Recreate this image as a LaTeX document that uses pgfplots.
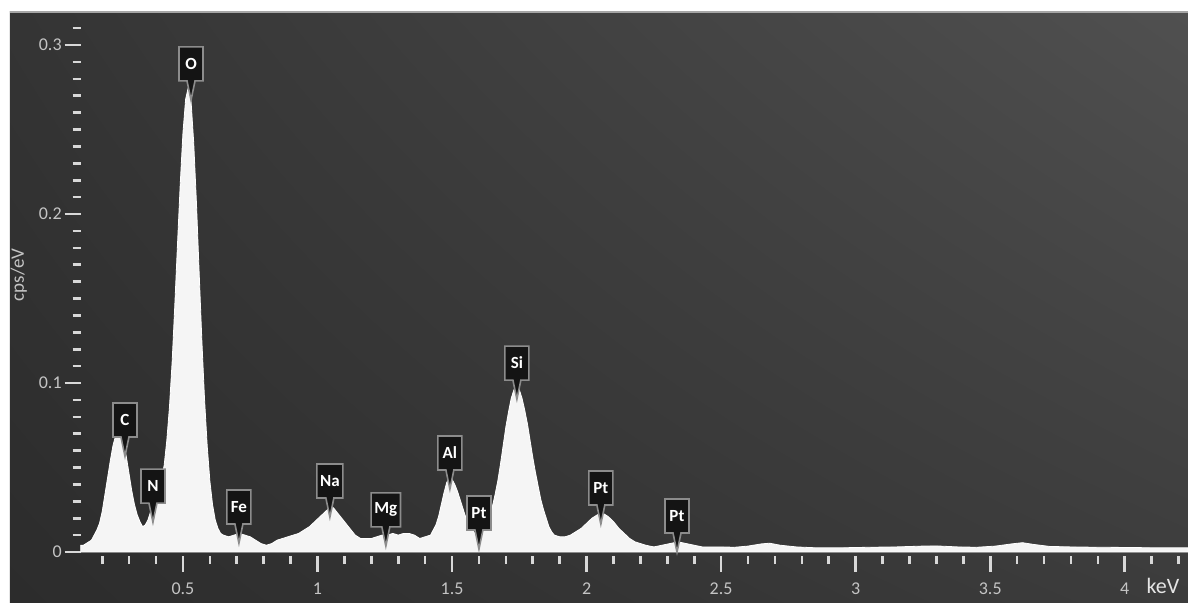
\documentclass[border=0pt]{standalone}
\usepackage{fontspec}
\setmainfont{Carlito}
\usepackage{pgfplots}
\pgfplotsset{compat=1.18}
\usepackage{pgfplotstable}
\usetikzlibrary{shadings,shapes.callouts}

\definecolor{tick}{HTML}{D8D8D8}
\definecolor{tlab}{HTML}{C4C4C4}
\definecolor{boxedge}{HTML}{8C8C8C}

\pgfplotstableread{
E y
0.12 0.004
0.13 0.004
0.14 0.005
0.15 0.006
0.16 0.007
0.17 0.010
0.18 0.013
0.19 0.017
0.20 0.024
0.21 0.034
0.22 0.044
0.23 0.054
0.24 0.063
0.25 0.069
0.26 0.072
0.27 0.070
0.28 0.064
0.29 0.056
0.30 0.046
0.31 0.036
0.32 0.028
0.33 0.022
0.34 0.018
0.35 0.015
0.36 0.016
0.37 0.019
0.38 0.024
0.39 0.028
0.40 0.032
0.41 0.037
0.42 0.044
0.43 0.051
0.44 0.066
0.45 0.086
0.46 0.113
0.47 0.147
0.48 0.183
0.49 0.218
0.50 0.248
0.51 0.268
0.52 0.275
0.53 0.267
0.54 0.242
0.55 0.207
0.56 0.166
0.57 0.126
0.58 0.091
0.59 0.063
0.60 0.042
0.61 0.028
0.62 0.019
0.63 0.014
0.64 0.011
0.65 0.010
0.67 0.009
0.69 0.010
0.71 0.011
0.73 0.010
0.75 0.009
0.77 0.007
0.79 0.005
0.81 0.004
0.83 0.005
0.85 0.007
0.87 0.008
0.89 0.009
0.91 0.010
0.93 0.011
0.95 0.013
0.97 0.015
0.99 0.018
1.01 0.021
1.03 0.024
1.05 0.027
1.06 0.026
1.08 0.022
1.10 0.018
1.12 0.014
1.14 0.010
1.16 0.008
1.18 0.008
1.20 0.008
1.22 0.009
1.24 0.010
1.26 0.010
1.28 0.011
1.30 0.010
1.32 0.011
1.34 0.011
1.36 0.010
1.38 0.008
1.40 0.009
1.42 0.010
1.44 0.016
1.45 0.021
1.46 0.028
1.47 0.035
1.48 0.041
1.49 0.044
1.50 0.043
1.51 0.040
1.52 0.036
1.53 0.031
1.54 0.026
1.55 0.021
1.56 0.017
1.57 0.014
1.58 0.012
1.59 0.010
1.60 0.010
1.61 0.011
1.62 0.013
1.63 0.017
1.64 0.021
1.65 0.027
1.66 0.034
1.67 0.042
1.68 0.052
1.69 0.063
1.70 0.074
1.71 0.083
1.72 0.091
1.73 0.096
1.74 0.098
1.75 0.096
1.76 0.091
1.77 0.084
1.78 0.076
1.79 0.066
1.80 0.056
1.81 0.047
1.82 0.039
1.83 0.031
1.84 0.025
1.85 0.020
1.86 0.015
1.87 0.012
1.88 0.010
1.90 0.009
1.92 0.009
1.94 0.010
1.96 0.012
1.98 0.014
2.00 0.017
2.02 0.020
2.04 0.022
2.06 0.023
2.08 0.021
2.10 0.018
2.12 0.014
2.14 0.011
2.16 0.008
2.18 0.006
2.20 0.005
2.22 0.004
2.25 0.003
2.28 0.004
2.31 0.005
2.34 0.006
2.37 0.005
2.40 0.004
2.43 0.003
2.45 0.003
2.50 0.003
2.55 0.0028
2.60 0.0035
2.65 0.0048
2.68 0.0052
2.72 0.004
2.78 0.003
2.85 0.0025
2.95 0.0025
3.05 0.0028
3.15 0.003
3.25 0.0035
3.30 0.0036
3.38 0.003
3.45 0.0028
3.52 0.0035
3.58 0.0048
3.62 0.0055
3.66 0.0045
3.72 0.0033
3.80 0.003
3.90 0.0028
4.00 0.0027
4.10 0.0025
4.20 0.0025
4.235 0.0025
}\spectrum

\tikzset{elem/.style={rectangle callout, callout relative pointer={(0pt,-9.6pt)},
  callout pointer width=4pt,
  fill=black!92, draw=boxedge, line width=0.8pt, text=white,
  font=\fontsize{8.5}{8.5}\selectfont\bfseries, minimum width=12pt, minimum height=17pt,
  inner xsep=1.6pt, inner ysep=0pt}}

\begin{document}
\begin{tikzpicture}
\path[use as bounding box] (-40.35pt,-26.5pt) rectangle (553.65pt,276pt);
\fill[white] (-40.35pt,-26.5pt) rectangle (553.65pt,276pt);
\shade[upper left={rgb,255:red,52;green,52;blue,52}, upper right={rgb,255:red,80;green,80;blue,80},
       lower left={rgb,255:red,44;green,44;blue,44}, lower right={rgb,255:red,60;green,60;blue,60}]
  (-35.35pt,-25pt) rectangle (553.65pt,270pt);
\draw[gray!70, line width=0.6pt] (-35.35pt,270pt) -- (553.65pt,270pt);
\begin{axis}[
  scale only axis, width=553.65pt, height=270pt,
  xmin=0.12, xmax=4.235, ymin=0, ymax=0.31953,
  axis line style={draw=none},
  clip=false,
  tick align=outside,
  xtick pos=lower, ytick pos=left,
  xtick={0.5,1,1.5,2,2.5,3,3.5,4},
  xticklabels={0.5,1,1.5,2,2.5,3,3.5,4},
  minor xtick={0.2,0.3,0.4,0.6,0.7,0.8,0.9,1.1,1.2,1.3,1.4,1.6,1.7,1.8,1.9,2.1,2.2,2.3,2.4,2.6,2.7,2.8,2.9,3.1,3.2,3.3,3.4,3.6,3.7,3.8,3.9,4.1,4.2},
  ytick={0,0.1,0.2,0.3},
  yticklabels={0,0.1,0.2,0.3},
  minor ytick={0.01,0.02,0.03,0.04,0.05,0.06,0.07,0.08,0.09,0.11,0.12,0.13,0.14,0.15,0.16,0.17,0.18,0.19,0.21,0.22,0.23,0.24,0.25,0.26,0.27,0.28,0.29,0.31},
  major tick length=8pt, minor tick length=4pt,
  xtick style={draw=tick, line width=1.3pt, yshift=-2pt},
  ytick style={draw=tick, line width=1.3pt},
  xticklabel style={text=tlab, font=\fontsize{9}{9}\selectfont, yshift=-4pt},
  yticklabel style={text=tlab, font=\fontsize{9}{9}\selectfont, xshift=2pt},
  xlabel={keV}, ylabel={cps/eV},
  every axis x label/.style={at={(axis description cs:0.9774,0)}, anchor=center, yshift=-17pt,
     text=white!90!black, font=\fontsize{11}{11}\selectfont},
  every axis y label/.style={at={(axis description cs:0,0.513)}, xshift=-31pt, rotate=90, anchor=center,
     text=tlab, font=\fontsize{9.5}{9.5}\selectfont},
]
\addplot[fill=white!96!black, draw=white, line width=0.4pt] table[x=E, y=y] {\spectrum} \closedcycle;
\node[elem] at (axis cs:0.530,0.2888) {O};
\node[elem] at (axis cs:0.2845,0.0781) {C};
\node[elem] at (axis cs:0.3885,0.0390) {N};
\node[elem] at (axis cs:0.708,0.0266) {Fe};
\node[elem] at (axis cs:1.046,0.0420) {Na};
\node[elem] at (axis cs:1.254,0.0249) {Mg};
\node[elem] at (axis cs:1.492,0.0586) {Al};
\node[elem] at (axis cs:1.600,0.0231) {Pt};
\node[elem] at (axis cs:1.741,0.1118) {Si};
\node[elem] at (axis cs:2.053,0.0379) {Pt};
\node[elem] at (axis cs:2.336,0.0213) {Pt};
\end{axis}
\end{tikzpicture}
\end{document}
